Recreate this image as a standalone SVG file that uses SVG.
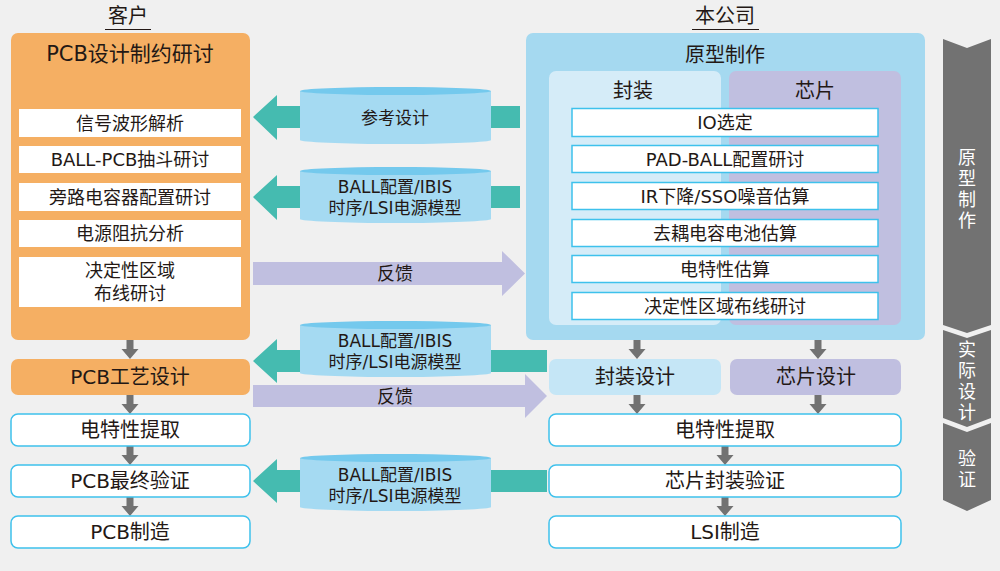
<svg xmlns="http://www.w3.org/2000/svg" width="1000" height="571" viewBox="0 0 1000 571">
<style>
text{font-family:"DejaVu Sans","Noto Sans CJK SC",sans-serif;fill:#231815;text-anchor:middle;dominant-baseline:central}
.t21{font-size:21px}
.t20{font-size:20px}
.t19{font-size:20px}
.t17{font-size:18px}
.t16{font-size:17px}
.wt{fill:#ffffff;font-size:18px;font-family:"Noto Sans CJK SC",sans-serif;writing-mode:vertical-rl;letter-spacing:3px}
.item{fill:#ffffff}
.ritem{fill:#ffffff;stroke:#3ec1ec;stroke-width:1.5}
.wbox{fill:#ffffff;stroke:#3ec1ec;stroke-width:1.5}
.orange{fill:#f5af63}
.teal{fill:#45bbb0}
.purple{fill:#c0bfe0}
.cylbody{fill:#a5daf2}
.cyltop{fill:#74c9ed}
.gray{fill:#727272}
.chev{fill:#727272}
</style>
<rect x="0" y="0" width="1000" height="571" fill="#f0f0f0"/>

<g id="headers">
<text class="t20" x="128" y="16">客户</text>
<line x1="105" y1="29.5" x2="151" y2="29.5" stroke="#231815" stroke-width="1.2"/>
<text class="t20" x="725" y="16">本公司</text>
<line x1="692" y1="29.5" x2="759" y2="29.5" stroke="#231815" stroke-width="1.2"/>
</g>

<g id="connectors">
<polygon class="teal" points="253,117 277,95 277,106 520,106 520,128 277,128 277,140"/>
<polygon class="teal" points="253,197 277,175 277,186 520,186 520,208 277,208 277,220"/>
<polygon class="teal" points="253,361 277,339 277,350 547,350 547,372 277,372 277,383"/>
<polygon class="teal" points="253,481 277,459 277,470 547,470 547,492 277,492 277,503"/>
<polygon class="purple" points="253,262 502,262 502,251 525,273.5 502,296 502,285 253,285"/>
<polygon class="purple" points="253,385 525,385 525,374 547,396 525,418 525,407 253,407"/>
<polygon class="gray" points="126.5,340 133.5,340 133.5,349 138.5,349 130,359 121.5,349 126.5,349"/>
<polygon class="gray" points="126.5,395 133.5,395 133.5,404 138.5,404 130,414 121.5,404 126.5,404"/>
<polygon class="gray" points="126.5,446 133.5,446 133.5,455 138.5,455 130,465 121.5,455 126.5,455"/>
<polygon class="gray" points="126.5,497 133.5,497 133.5,506 138.5,506 130,516 121.5,506 126.5,506"/>
<polygon class="gray" points="633.5,331 640.5,331 640.5,349 645.5,349 637,359 628.5,349 633.5,349"/>
<polygon class="gray" points="814.5,331 821.5,331 821.5,349 826.5,349 818,359 809.5,349 814.5,349"/>
<polygon class="gray" points="633.5,395 640.5,395 640.5,404 645.5,404 637,414 628.5,404 633.5,404"/>
<polygon class="gray" points="814.5,395 821.5,395 821.5,404 826.5,404 818,414 809.5,404 814.5,404"/>
<polygon class="gray" points="721.5,446 728.5,446 728.5,455 733.5,455 725,465 716.5,455 721.5,455"/>
<polygon class="gray" points="721.5,497 728.5,497 728.5,506 733.5,506 725,516 716.5,506 721.5,506"/>
<text class="t17" x="395" y="273.5">反馈</text>
<text class="t17" x="395" y="396">反馈</text>
</g>

<g id="cyl1">
<path class="cylbody" d="M300,91 L300,140 A95.5,4 0 0 0 491,140 L491,91 Z"/>
<ellipse class="cyltop" cx="395.5" cy="91" rx="95.5" ry="4"/>
<text class="t16" x="395" y="118">参考设计</text>
</g>
<g id="cyl2">
<path class="cylbody" d="M300,171 L300,219 A95.5,4 0 0 0 491,219 L491,171 Z"/>
<ellipse class="cyltop" cx="395.5" cy="171" rx="95.5" ry="4"/>
<text class="t16" x="395" y="187">BALL配置/IBIS</text>
<text class="t16" x="395" y="208">时序/LSI电源模型</text>
</g>
<g id="cyl3">
<path class="cylbody" d="M300,325 L300,373 A95.5,4 0 0 0 491,373 L491,325 Z"/>
<ellipse class="cyltop" cx="395.5" cy="325" rx="95.5" ry="4"/>
<text class="t16" x="395" y="341">BALL配置/IBIS</text>
<text class="t16" x="395" y="362">时序/LSI电源模型</text>
</g>
<g id="cyl4">
<path class="cylbody" d="M300,458 L300,507 A95.5,4 0 0 0 491,507 L491,458 Z"/>
<ellipse class="cyltop" cx="395.5" cy="458" rx="95.5" ry="4"/>
<text class="t16" x="395" y="475">BALL配置/IBIS</text>
<text class="t16" x="395" y="496">时序/LSI电源模型</text>
</g>

<g id="pcb-constraint">
<rect class="orange" x="11" y="33" width="239" height="307" rx="7"/>
<text class="t21" x="130" y="54">PCB设计制约研讨</text>
<rect class="item" x="19" y="109" width="222" height="28"/>
<text class="t17" x="130" y="123">信号波形解析</text>
<rect class="item" x="19" y="146" width="222" height="27"/>
<text class="t17" x="130" y="159.5">BALL-PCB抽斗研讨</text>
<rect class="item" x="19" y="183" width="222" height="28"/>
<text class="t17" x="130" y="197">旁路电容器配置研讨</text>
<rect class="item" x="19" y="220" width="222" height="27"/>
<text class="t17" x="130" y="233.5">电源阻抗分析</text>
<rect class="item" x="19" y="257" width="222" height="50"/>
<text class="t17" x="130" y="270">决定性区域</text>
<text class="t17" x="130" y="293">布线研讨</text>
</g>

<g id="prototype">
<rect x="526" y="33" width="399" height="307" rx="7" fill="#a5d9f0"/>
<text class="t20" x="725" y="55">原型制作</text>
<rect x="549" y="71" width="172" height="254" rx="7" fill="#d5ecf8"/>
<rect x="729" y="71" width="172" height="254" rx="7" fill="#c0bfe0"/>
<text class="t20" x="633" y="91">封装</text>
<text class="t20" x="815" y="91">芯片</text>
<rect class="ritem" x="572" y="108.5" width="306" height="28"/>
<text class="t17" x="725" y="122.5">IO选定</text>
<rect class="ritem" x="572" y="145.5" width="306" height="27"/>
<text class="t17" x="725" y="159">PAD-BALL配置研讨</text>
<rect class="ritem" x="572" y="182.5" width="306" height="27"/>
<text class="t17" x="725" y="196">IR下降/SSO噪音估算</text>
<rect class="ritem" x="572" y="219.5" width="306" height="27"/>
<text class="t17" x="725" y="233">去耦电容电池估算</text>
<rect class="ritem" x="572" y="255.5" width="306" height="27"/>
<text class="t17" x="725" y="269">电特性估算</text>
<rect class="ritem" x="572" y="292.5" width="306" height="27"/>
<text class="t17" x="725" y="306">决定性区域布线研讨</text>
</g>

<g id="pcb-process">
<rect class="orange" x="11" y="359" width="239" height="36" rx="7"/>
<text class="t19" x="130" y="377">PCB工艺设计</text>
</g>
<g id="pcb-extract">
<rect class="wbox" x="11" y="414" width="239" height="32" rx="7"/>
<text class="t19" x="130" y="430">电特性提取</text>
</g>
<g id="pcb-verify">
<rect class="wbox" x="11" y="465" width="239" height="32" rx="7"/>
<text class="t19" x="130" y="481">PCB最终验证</text>
</g>
<g id="pcb-make">
<rect class="wbox" x="11" y="516" width="239" height="32" rx="7"/>
<text class="t19" x="130" y="532">PCB制造</text>
</g>

<g id="pkg-design">
<rect x="549" y="359" width="172" height="36" rx="7" fill="#c5e6f6"/>
<text class="t19" x="635" y="377">封装设计</text>
</g>
<g id="chip-design">
<rect x="730" y="359" width="171" height="36" rx="7" fill="#c0bfe0"/>
<text class="t19" x="816" y="377">芯片设计</text>
</g>
<g id="lsi-extract">
<rect class="wbox" x="549" y="414" width="352" height="32" rx="7"/>
<text class="t19" x="725" y="430">电特性提取</text>
</g>
<g id="pkg-verify">
<rect class="wbox" x="549" y="465" width="352" height="32" rx="7"/>
<text class="t19" x="725" y="481">芯片封装验证</text>
</g>
<g id="lsi-make">
<rect class="wbox" x="549" y="516" width="352" height="32" rx="7"/>
<text class="t19" x="725" y="532">LSI制造</text>
</g>

<g id="phases">
<polygon class="chev" points="943,39 967,48 991,39 991,325 967,333 943,325"/>
<polygon class="chev" points="943,330 967,338 991,330 991,418 967,427 943,418"/>
<polygon class="chev" points="943,423 967,432 991,423 991,500 967,511 943,500"/>
<text class="wt" x="967" y="190">原型制作</text>
<text class="wt" x="967" y="382">实际设计</text>
<text class="wt" x="967" y="470">验证</text>
</g>
</svg>
